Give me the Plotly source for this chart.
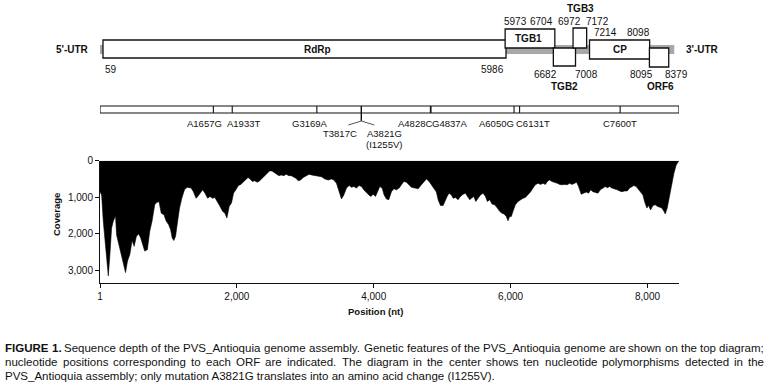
import plotly.graph_objects as go

# ---------------- data ----------------
# coverage profile (position in nt, read depth)
cov_pos = [1, 25, 49, 83, 122, 146, 170, 195, 228, 243, 277, 306, 340, 374, 403, 437, 470, 500, 533, 567,
           596, 630, 654, 693, 727, 761, 800, 829, 863, 896, 935, 969, 1003, 1032, 1056, 1080, 1105, 1138, 1163, 1196,
           1235, 1274, 1332, 1366, 1405, 1429, 1468, 1501, 1535, 1574, 1608, 1647, 1680, 1719, 1753, 1792, 1826, 1855, 1889, 1922,
           1952, 1985, 2024, 2058, 2097, 2131, 2164, 2193, 2227, 2261, 2300, 2334, 2372, 2406, 2445, 2479, 2513, 2542, 2581, 2615,
           2648, 2687, 2721, 2760, 2794,
           2824, 2863, 2897, 2931, 2970, 3009, 3057, 3091, 3140, 3189, 3237, 3286, 3335, 3383, 3417, 3456, 3495, 3529, 3563, 3602,
           3641, 3675, 3709, 3748, 3787, 3821, 3855, 3894, 3928, 3958, 3992, 4026, 4055, 4089, 4123, 4152, 4186, 4220, 4259, 4293,
           4332, 4371, 4405, 4439, 4478, 4517, 4551, 4600, 4649, 4697, 4731, 4770, 4809, 4843, 4878, 4916, 4941, 4975, 5014, 5038,
           5072, 5101, 5135, 5160, 5194, 5233, 5267, 5306, 5340, 5369, 5403, 5428, 5462, 5491, 5525, 5559, 5598, 5632, 5661, 5695,
           5728, 5767, 5806, 5840, 5874, 5903, 5937, 5962, 5986, 6010, 6035, 6069, 6108, 6147, 6181, 6215, 6254, 6293, 6327, 6361,
           6400, 6439, 6473, 6507, 6546, 6570, 6604, 6643, 6682, 6716, 6750, 6789, 6828, 6862, 6896, 6935, 6964, 6993, 7032, 7067,
           7105, 7139, 7169, 7203, 7237, 7276, 7310, 7349, 7383, 7412, 7446, 7480, 7519, 7558, 7592, 7626, 7665, 7704, 7738, 7772,
           7801, 7835, 7870, 7899, 7933, 7957, 7991, 8016, 8045, 8079, 8113, 8142, 8176, 8210, 8240, 8259, 8288, 8322, 8356, 8385,
           8419, 8459]
coverage = [850, 940, 1660, 2480, 3160, 2570, 1850, 1660, 1510, 2030, 2300, 2570, 2750, 3070, 2750, 2570, 2190, 2350, 2070, 2010,
            2120, 2350, 2480, 2440, 1940, 1660, 1210, 1150, 1120, 1440, 1480, 1660, 1750, 1890, 2120, 2190, 2070, 1620, 1300, 1030,
            800, 730, 750, 850, 1030, 980, 890, 800, 890, 1030, 980, 1030, 1010, 1120, 1250, 1390, 1440, 1570, 1250, 1160,
            890, 800, 680, 650, 570, 500, 460, 500, 570, 550, 590, 550, 480, 390, 320, 280, 280, 320, 350, 410,
            390, 410, 370, 410, 410,
            440, 480, 550, 530, 460, 420, 370, 390, 410, 410, 440, 500, 530, 500, 530, 620, 890, 1050, 940, 750,
            680, 730, 710, 750, 680, 710, 800, 890, 940, 980, 920, 980, 850, 710, 750, 940, 1050, 1070, 850, 770,
            800, 750, 660, 570, 590, 660, 730, 750, 770, 660, 570, 500, 570, 660, 750, 860, 1070, 1230, 1230, 1120,
            980, 890, 940, 1030, 1010, 1070, 980, 920, 890, 980, 1070, 1030, 980, 1120, 1030, 940, 890, 980, 1120, 1070,
            1190, 1210, 1300, 1390, 1440, 1460, 1530, 1650, 1530, 1530, 1390, 1210, 1120, 1070, 1030, 1010, 940, 850, 750, 660,
            620, 650, 620, 650, 550, 530, 570, 590, 620, 650, 660, 650, 660, 620, 650, 620, 590, 710, 920, 890,
            860, 890, 800, 850, 860, 890, 800, 740, 710, 740, 710, 750, 770, 800, 830, 850, 830, 830, 750, 710,
            680, 710, 800, 850, 940, 1120, 1300, 1230, 1350, 1230, 1210, 1250, 1280, 1300, 1390, 1460, 1300, 940, 620, 350,
            120, 0]

genome_start = 1
genome_end = 8460

orf_names = ["RdRp", "TGB1", "TGB2", "TGB3", "CP", "ORF6"]
orf_start = [59, 5973, 6682, 6972, 7214, 8095]
orf_end = [5986, 6704, 7008, 7172, 8098, 8379]

mut_names = ["A1657G", "A1933T", "G3169A", "T3817C", "A3821G", "A4828C", "G4837A", "A6050G", "C6131T", "C7600T"]
mut_pos = [1657, 1933, 3169, 3817, 3821, 4828, 4837, 6050, 6131, 7600]
aa_change = {"A3821G": "(I1255V)"}

x_tickvals = [1, 2000, 4000, 6000, 8000]
x_ticktext = ["1", "2,000", "4,000", "6,000", "8,000"]
y_tickvals = [0, 1000, 2000, 3000]
y_ticktext = ["0", "1,000", "2,000", "3,000"]

caption_bold = "FIGURE 1."
caption_lines = [
    "FIGURE 1. Sequence depth of the PVS_Antioquia genome assembly. Genetic features of the PVS_Antioquia genome are shown on the top diagram;",
    "nucleotide positions corresponding to each ORF are indicated. The diagram in the center shows ten nucleotide polymorphisms detected in the",
    "PVS_Antioquia assembly; only mutation A3821G translates into an amino acid change (I1255V).",
]

# ---------------- styling / layout ----------------
W, H = 767, 384
L, R = 100, 88
PW = W - L - R
FONT = "Liberation Sans, Arial, sans-serif"
BLACK = "#111111"


def pxx(px):
    return (px - L) / PW


# Arial / Liberation Sans advance widths (1/1000 em) used to justify the caption
_AW = {' ': 278, '!': 278, "'": 191, '(': 333, ')': 333, ',': 278, '-': 333, '.': 278, ';': 278, ':': 278, '_': 556,
       'A': 667, 'B': 667, 'C': 722, 'D': 722, 'E': 667, 'F': 611, 'G': 778, 'H': 722, 'I': 278, 'J': 500, 'K': 667,
       'L': 556, 'M': 833, 'N': 722, 'O': 778, 'P': 667, 'Q': 778, 'R': 722, 'S': 667, 'T': 611, 'U': 722, 'V': 667,
       'W': 944, 'X': 667, 'Y': 667, 'Z': 611,
       'a': 556, 'b': 556, 'c': 500, 'd': 556, 'e': 556, 'f': 278, 'g': 556, 'h': 556, 'i': 222, 'j': 222, 'k': 500,
       'l': 222, 'm': 833, 'n': 556, 'o': 556, 'p': 556, 'q': 556, 'r': 333, 's': 500, 't': 278, 'u': 556, 'v': 500,
       'w': 722, 'x': 500, 'y': 500, 'z': 500}
_BW = {' ': 278, '.': 278, '1': 556, 'F': 611, 'I': 278, 'G': 778, 'U': 722, 'R': 722, 'E': 667}


def tw(s, size, bold=False):
    tab = _BW if bold else _AW
    return sum(tab.get(c, 556) for c in s) * size / 1000.0


# box rows (pixel rows) for each ORF, and where its number labels go
orf_rows = {"RdRp": (40, 58), "TGB1": (29, 48), "TGB2": (48, 66), "TGB3": (28, 48), "CP": (40, 59), "ORF6": (48, 67)}
num_style = {
    "RdRp": ((69, "left", 0), (69, "right", 0)),
    "TGB1": ((21, "left", -3), (21, "right", 0)),
    "TGB2": ((74, "right", 6), (74, "left", -3)),
    "TGB3": ((21, "center", -4), (21, "left", -3)),
    "CP": ((32, "left", 2), (32, "right", 2)),
    "ORF6": ((74, "right", 6), (74, "left", -6)),
}
name_style = {"RdRp": (49, 13), "TGB1": (38, -1), "TGB2": (86, 0), "TGB3": (8, 1), "CP": (49, 0), "ORF6": (86, 1)}

mut_shift = {"A1657G": -9, "A1933T": 11, "G3169A": -7, "T3817C": -21, "A3821G": 23,
             "A4828C": -15, "G4837A": 19, "A6050G": -18, "C6131T": 13, "C7600T": 0}
fork_pair = ("T3817C", "A3821G")

NUM_FONT = dict(size=10, color=BLACK, family=FONT)
NAME_FONT = dict(size=10, color=BLACK, family=FONT)
MUT_FONT = dict(size=9.5, color=BLACK, family=FONT)
UTR_FONT = dict(size=10, color=BLACK, family=FONT)

fig = go.Figure()
fig.add_trace(go.Scatter(x=cov_pos, y=coverage, mode="lines", fill="tozeroy",
                         line=dict(color="#000000", width=0.6), fillcolor="#000000",
                         hoverinfo="skip", showlegend=False, xaxis="x", yaxis="y"))

shapes = []
annotations = []

# top diagram: grey genome band, ORF boxes
shapes.append(dict(type="rect", xref="x2", yref="y2", x0=genome_start, x1=genome_end, y0=45, y1=54,
                   fillcolor="#a8a8a8", line=dict(width=0), layer="above"))
for name, s, e in zip(orf_names, orf_start, orf_end):
    y0, y1 = orf_rows[name]
    shapes.append(dict(type="rect", xref="x2", yref="y2", x0=s, x1=e, y0=y0, y1=y1,
                       fillcolor="white", line=dict(color=BLACK, width=1.3), layer="above"))
    (sy, sa, ss), (ey, ea, es) = num_style[name]
    annotations.append(dict(xref="x2", yref="y2", x=s, y=sy, text=str(s), xanchor=sa, xshift=ss,
                            yanchor="middle", showarrow=False, font=NUM_FONT))
    annotations.append(dict(xref="x2", yref="y2", x=e, y=ey, text=str(e), xanchor=ea, xshift=es,
                            yanchor="middle", showarrow=False, font=NUM_FONT))
    ny, nsh = name_style[name]
    annotations.append(dict(xref="x2", yref="y2", x=(s + e) / 2, y=ny, text="<b>%s</b>" % name, xshift=nsh,
                            xanchor="center", yanchor="middle", showarrow=False, font=NAME_FONT))
# UTR labels (5' label lies left of the axis range, so it is placed in paper units)
annotations.append(dict(xref="paper", yref="y2", x=pxx(91), y=49, text="<b>5'-UTR</b>", xanchor="right",
                        yanchor="middle", showarrow=False, font=UTR_FONT))
annotations.append(dict(xref="x2", yref="y2", x=genome_end, y=49, text="<b>3'-UTR</b>", xanchor="left",
                        xshift=10, yanchor="middle", showarrow=False, font=UTR_FONT))

# middle diagram: polymorphisms
shapes.append(dict(type="rect", xref="x", yref="y2", x0=genome_start, x1=genome_end, y0=106, y1=113,
                   fillcolor="white", line=dict(color=BLACK, width=1.1), layer="above"))
for name, p in zip(mut_names, mut_pos):
    y1 = 121 if name in fork_pair else 113
    shapes.append(dict(type="line", xref="x", yref="y2", x0=p, x1=p, y0=106, y1=y1,
                       line=dict(color=BLACK, width=1.1), layer="above"))
    ly = 133 if name in fork_pair else 123
    annotations.append(dict(xref="x", yref="y2", x=p, y=ly, text=name, xanchor="center", xshift=mut_shift[name],
                            yanchor="middle", showarrow=False, font=MUT_FONT))
    if name in aa_change:
        annotations.append(dict(xref="x", yref="y2", x=p, y=144, text=aa_change[name], xanchor="center",
                                xshift=mut_shift[name], yanchor="middle", showarrow=False, font=MUT_FONT))
fork_x = (mut_pos[mut_names.index(fork_pair[0])] + mut_pos[mut_names.index(fork_pair[1])]) / 2
for dx in (-13, 13):
    shapes.append(dict(type="line", xref="x", yref="y2", xsizemode="pixel", xanchor=fork_x, x0=0, x1=dx,
                       y0=121, y1=125, line=dict(color="#555555", width=1), layer="above"))

# axis titles
annotations.append(dict(xref="paper", yref="y2", x=pxx(56), y=215, text="<b>Coverage</b>", textangle=-90,
                        showarrow=False, xanchor="center", yanchor="middle",
                        font=dict(size=9.5, color=BLACK, family=FONT)))
annotations.append(dict(xref="paper", yref="y2", x=pxx(375), y=311, text="<b>Position (nt)</b>",
                        showarrow=False, xanchor="center", yanchor="middle",
                        font=dict(size=9.5, color=BLACK, family=FONT)))

# caption (first two lines justified word by word, last line left aligned)
CAP_X0, CAP_X1 = 4, 763
CAP_Y = [348, 362, 376]
cap_size = 11.5
for line in caption_lines[:2]:
    words = line.split(" ")
    nat = sum(tw(w, 1, bold=(line.startswith(caption_bold) and i < 2)) for i, w in enumerate(words))
    cap_size = min(cap_size, (CAP_X1 - CAP_X0 - 2.2 * (len(words) - 1)) / nat)
CAP_FONT = dict(size=cap_size, color=BLACK, family=FONT)
for li, line in enumerate(caption_lines):
    if li < 2:
        words = line.split(" ")
        bold_flags = [line.startswith(caption_bold) and i < len(caption_bold.split(" ")) for i in range(len(words))]
        widths = [tw(w, cap_size, b) for w, b in zip(words, bold_flags)]
        gap = (CAP_X1 - CAP_X0 - sum(widths)) / (len(words) - 1)
        x = CAP_X0
        for w, b, wd in zip(words, bold_flags, widths):
            annotations.append(dict(xref="paper", yref="y2", x=pxx(x), y=CAP_Y[li],
                                    text=("<b>%s</b>" % w) if b else w, showarrow=False, borderpad=0,
                                    xanchor="left", yanchor="middle", align="left", font=CAP_FONT))
            x += wd + gap
    else:
        annotations.append(dict(xref="paper", yref="y2", x=pxx(CAP_X0), y=CAP_Y[li], text=line, showarrow=False,
                                borderpad=0, xanchor="left", yanchor="middle", align="left", font=CAP_FONT))

fig.update_layout(
    width=W, height=H,
    margin=dict(l=L, r=R, t=0, b=0, pad=0),
    paper_bgcolor="white", plot_bgcolor="rgba(0,0,0,0)",
    showlegend=False,
    font=dict(family=FONT, size=10, color=BLACK),
    xaxis=dict(domain=[0, 1], range=[1, 8460], anchor="y", showgrid=False, zeroline=False,
               showline=True, linecolor=BLACK, linewidth=1, ticks="outside", ticklen=4, tickcolor=BLACK,
               tickvals=x_tickvals, ticktext=x_ticktext, tickfont=dict(size=10, family=FONT, color=BLACK),
               automargin=False),
    yaxis=dict(domain=[1 - 282.7 / H, 1 - 160.7 / H], range=[3347, 0], anchor="x", showgrid=False,
               zeroline=False, showline=True, linecolor=BLACK, linewidth=1, ticks="outside", ticklen=4,
               tickcolor=BLACK, tickvals=y_tickvals, ticktext=y_ticktext,
               tickfont=dict(size=10, family=FONT, color=BLACK), automargin=False),
    xaxis2=dict(domain=[0, 1], range=[15, 8530], anchor="y2", visible=False, automargin=False),
    yaxis2=dict(domain=[0, 1], range=[H, 0], anchor="x2", visible=False, automargin=False),
    shapes=shapes,
    annotations=annotations,
)

fig.write_html("out.html", config={"displayModeBar": False},
               post_script="document.body.style.margin='0';")
